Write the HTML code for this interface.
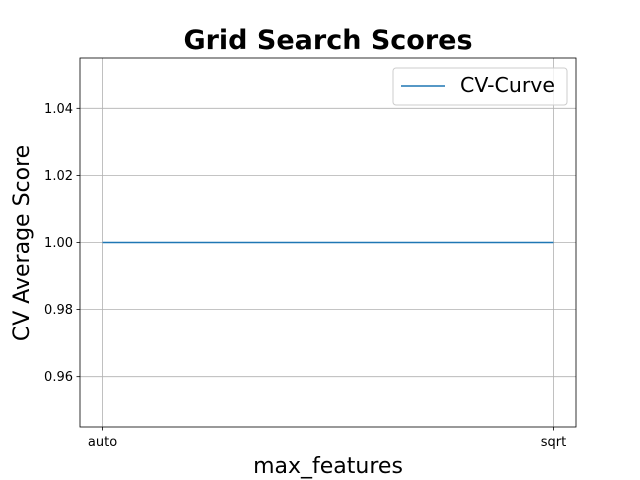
<!DOCTYPE html>
<html><head><meta charset="utf-8"><style>body{margin:0;background:#fff}svg{display:block;font-family:"DejaVu Sans","Liberation Sans",sans-serif}</style></head>
<body>
<svg id="chart" width="640" height="480"></svg>
<script>
const categories = ["auto", "sqrt"];
const seriesValues = [1.0, 1.0];
const yTickLabels = ["0.96", "0.98", "1.00", "1.02", "1.04"];
const yTicks = [0.96, 0.98, 1.00, 1.02, 1.04];

const L = 80, R = 576, T = 58, B = 427;
const yMin = 0.945, yMax = 1.055;
const xMin = -0.05, xMax = categories.length - 1 + 0.05;
function xs(i) { return L + (i - xMin) / (xMax - xMin) * (R - L); }
function ys(v) { return B - (v - yMin) / (yMax - yMin) * (B - T); }
const NS = "http://www.w3.org/2000/svg";
const svg = document.getElementById("chart");
function mk(tag, attrs, text) {
  const e = document.createElementNS(NS, tag);
  for (const k in attrs) e.setAttribute(k, attrs[k]);
  if (text !== undefined) e.textContent = text;
  svg.appendChild(e);
  return e;
}
let e;
categories.forEach((c, i) => {
  e = mk("line", {x1: xs(i), x2: xs(i), y1: T, y2: B, stroke: "#b0b0b0", "stroke-width": 0.8});
  
  
});
yTicks.forEach((v) => {
  e = mk("line", {x1: L, x2: R, y1: ys(v), y2: ys(v), stroke: "#b0b0b0", "stroke-width": 0.8});
  
  
});
const pts = seriesValues.map((v, i) => xs(i) + "," + ys(v)).join(" ");
e = mk("polyline", {points: pts, fill: "none", stroke: "#1f77b4", "stroke-width": 1.5});


e = mk("rect", {x: L, y: T, width: R - L, height: B - T, fill: "none", stroke: "#000", "stroke-width": 0.8});


categories.forEach((c, i) => {
  mk("line", {x1: xs(i), x2: xs(i), y1: B, y2: B + 3.5, stroke: "#000", "stroke-width": 0.8});
  e = mk("text", {x: xs(i), y: B + 19, "text-anchor": "middle", "font-size": 13}, c);
  
  
});
yTicks.forEach((v, i) => {
  mk("line", {x1: L - 3.5, x2: L, y1: ys(v), y2: ys(v), stroke: "#000", "stroke-width": 0.8});
  e = mk("text", {x: L - 7, y: ys(v) + 4.5, "text-anchor": "end", "font-size": 13}, yTickLabels[i]);
  
  
});
e = mk("text", {x: 328, y: 49, "text-anchor": "middle", "font-size": 27, "font-weight": "bold"}, "Grid Search Scores");


e = mk("text", {x: 328, y: 473, "text-anchor": "middle", "font-size": 22}, "max_features");


e = mk("text", {x: 0, y: 0, "text-anchor": "middle", "font-size": 22, transform: "translate(29,243) rotate(-90)"}, "CV Average Score");


e = mk("rect", {x: 393, y: 68, width: 174, height: 37, rx: 3, fill: "#fff", "fill-opacity": 0.8, stroke: "#ccc", "stroke-width": 1});


mk("line", {x1: 401, x2: 445, y1: 86, y2: 86, stroke: "#1f77b4", "stroke-width": 1.5});
e = mk("text", {x: 460, y: 92, "font-size": 20.5}, "CV-Curve");


</script>
</body></html>
